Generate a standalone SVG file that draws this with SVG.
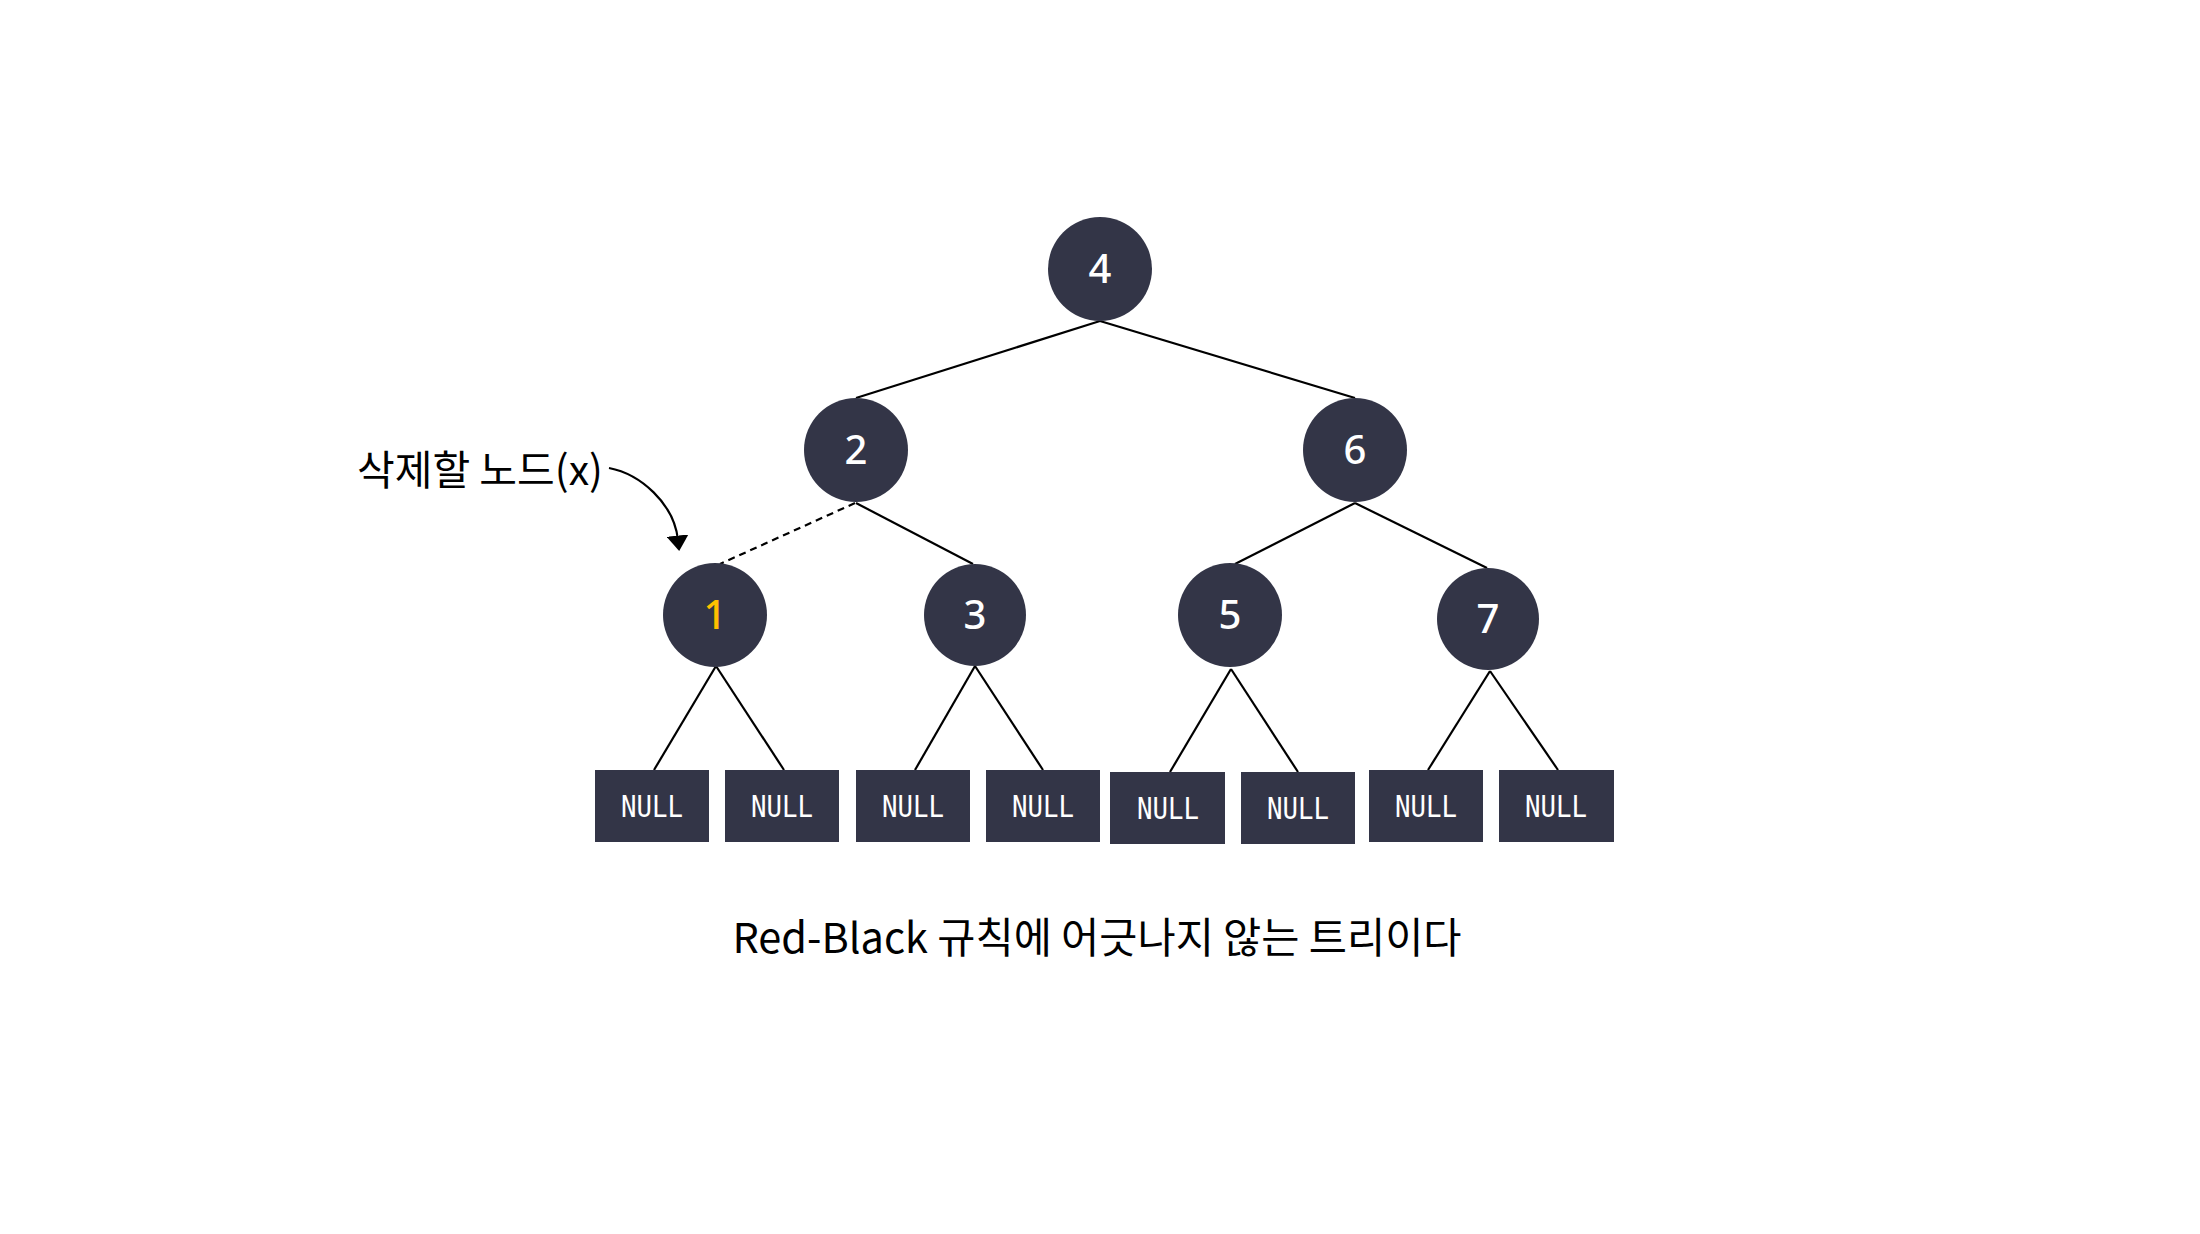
<svg xmlns="http://www.w3.org/2000/svg" width="2200" height="1234" viewBox="0 0 2200 1234">
<style>
.node{fill:#333547}
.num{font-family:"Noto Sans","Noto Sans CJK KR",sans-serif;font-size:40px;font-weight:500;fill:#ffffff;text-anchor:middle}
.null{font-family:"DejaVu Sans Mono",monospace;font-size:30px;fill:#ffffff;text-anchor:middle}
.edge{stroke:#000;stroke-width:2.2;fill:none}
.lbl{font-family:"Noto Sans CJK KR","Noto Sans",sans-serif;font-size:41px;fill:#000}
</style>
<defs>
<marker id="ah" viewBox="0 0 10 10" refX="2" refY="5" markerWidth="10" markerHeight="10" orient="auto" markerUnits="strokeWidth">
<path d="M0,0 L7,5 L0,10 z" fill="#000"/>
</marker>
</defs>
<rect width="2200" height="1234" fill="#ffffff"/>
<g id="connectors">
<line class="edge" x1="1100" y1="321" x2="856" y2="398"/>
<line class="edge" x1="1100" y1="321" x2="1355" y2="398"/>
<line class="edge" x1="855" y1="503" x2="720" y2="564" stroke-dasharray="7,5"/>
<line class="edge" x1="856" y1="503" x2="973" y2="564"/>
<line class="edge" x1="1355" y1="503" x2="1235" y2="564"/>
<line class="edge" x1="1355" y1="503" x2="1487" y2="568"/>
<line class="edge" x1="716" y1="666" x2="654" y2="770"/>
<line class="edge" x1="716" y1="666" x2="784" y2="770"/>
<line class="edge" x1="975" y1="666" x2="915" y2="770"/>
<line class="edge" x1="975" y1="666" x2="1043" y2="770"/>
<line class="edge" x1="1231" y1="669" x2="1170" y2="772"/>
<line class="edge" x1="1231" y1="669" x2="1298" y2="772"/>
<line class="edge" x1="1490" y1="671" x2="1428" y2="770"/>
<line class="edge" x1="1490" y1="671" x2="1558" y2="770"/>
<path class="edge" d="M609,468 C640,474 674,503 678,540" marker-end="url(#ah)"/>
</g>
<g id="n4"><circle class="node" cx="1100" cy="269" r="52"/><text class="num" x="1100" y="283">4</text></g>
<g id="n2"><circle class="node" cx="856" cy="450" r="52"/><text class="num" x="856" y="464">2</text></g>
<g id="n6"><circle class="node" cx="1355" cy="450" r="52"/><text class="num" x="1355" y="464">6</text></g>
<g id="n1"><circle class="node" cx="715" cy="615" r="52"/><text class="num" x="715" y="629" style="fill:#FFC000">1</text></g>
<g id="n3"><circle class="node" cx="975" cy="615" r="51"/><text class="num" x="975" y="629">3</text></g>
<g id="n5"><circle class="node" cx="1230" cy="615" r="52"/><text class="num" x="1230" y="629">5</text></g>
<g id="n7"><circle class="node" cx="1488" cy="619" r="51"/><text class="num" x="1488" y="633">7</text></g>
<g id="null1"><rect class="node" x="595" y="770" width="114" height="72"/><text class="null" x="652" y="817" textLength="62" lengthAdjust="spacingAndGlyphs">NULL</text></g>
<g id="null2"><rect class="node" x="725" y="770" width="114" height="72"/><text class="null" x="782" y="817" textLength="62" lengthAdjust="spacingAndGlyphs">NULL</text></g>
<g id="null3"><rect class="node" x="856" y="770" width="114" height="72"/><text class="null" x="913" y="817" textLength="62" lengthAdjust="spacingAndGlyphs">NULL</text></g>
<g id="null4"><rect class="node" x="986" y="770" width="114" height="72"/><text class="null" x="1043" y="817" textLength="62" lengthAdjust="spacingAndGlyphs">NULL</text></g>
<g id="null5"><rect class="node" x="1110" y="772" width="115" height="72"/><text class="null" x="1168" y="819" textLength="62" lengthAdjust="spacingAndGlyphs">NULL</text></g>
<g id="null6"><rect class="node" x="1241" y="772" width="114" height="72"/><text class="null" x="1298" y="819" textLength="62" lengthAdjust="spacingAndGlyphs">NULL</text></g>
<g id="null7"><rect class="node" x="1369" y="770" width="114" height="72"/><text class="null" x="1426" y="817" textLength="62" lengthAdjust="spacingAndGlyphs">NULL</text></g>
<g id="null8"><rect class="node" x="1499" y="770" width="115" height="72"/><text class="null" x="1556" y="817" textLength="62" lengthAdjust="spacingAndGlyphs">NULL</text></g>
<g id="label-x"><text class="lbl" x="357" y="485">삭제할 노드(x)</text></g>
<g id="caption"><text class="lbl" x="1097" y="953" text-anchor="middle" style="font-size:41.5px">Red-Black 규칙에 어긋나지 않는 트리이다</text></g>
</svg>
